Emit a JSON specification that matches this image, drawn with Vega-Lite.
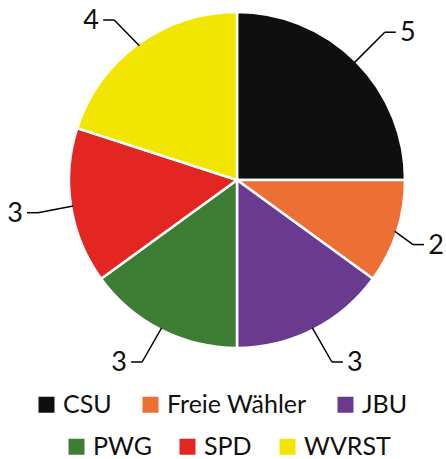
{
  "$schema": "https://vega.github.io/schema/vega-lite/v6.json",
  "width": 418,
  "height": 360,
  "autosize": {"type": "none"},
  "padding": {"left": 28, "top": 0, "right": 0, "bottom": 99},
  "background": "white",
  "config": {"view": {"stroke": null}, "font": "Lato"},
  "data": {
    "values": [
      {"party": "CSU", "seats": 5},
      {"party": "Freie Wähler", "seats": 2},
      {"party": "JBU", "seats": 3},
      {"party": "PWG", "seats": 3},
      {"party": "SPD", "seats": 3},
      {"party": "WVRST", "seats": 4}
    ]
  },
  "transform": [
    {"window": [{"op": "sum", "field": "seats", "as": "cum"}], "sort": [{"field": "party"}], "frame": [null, 0]},
    {"joinaggregate": [{"op": "sum", "field": "seats", "as": "total"}]},
    {"calculate": "(datum.cum - datum.seats / 2) / datum.total * 2 * PI", "as": "mid"},
    {"calculate": "166 * sin(datum.mid)", "as": "sx"},
    {"calculate": "166 * cos(datum.mid)", "as": "sy"},
    {"calculate": "clamp(209 * sin(datum.mid), -199, 176)", "as": "ex"},
    {"calculate": "clamp(209 * cos(datum.mid), -182, 160)", "as": "ey"},
    {"calculate": "datum.ex + (datum.sx > 0 ? 11 : -11)", "as": "hx"},
    {"calculate": "datum.ex + (datum.sx > 0 ? 23 : -23)", "as": "lx"}
  ],
  "layer": [
    {
      "mark": {"type": "arc", "outerRadius": 168, "stroke": "white", "strokeWidth": 2.5},
      "encoding": {
        "theta": {"field": "seats", "type": "quantitative", "stack": true},
        "color": {
          "field": "party",
          "type": "nominal",
          "scale": {
            "domain": ["CSU", "Freie Wähler", "JBU", "PWG", "SPD", "WVRST"],
            "range": ["#0f0f0f", "#ec6f34", "#693a8e", "#3e7e34", "#e42622", "#f2e500"]
          },
          "legend": {
            "values": ["CSU", "Freie Wähler", "JBU"],
            "orient": "none",
            "legendX": 6,
            "legendY": 392,
            "direction": "horizontal",
            "title": null,
            "symbolType": "square",
            "symbolSize": 256,
            "symbolStrokeWidth": 0,
            "symbolOpacity": 1,
            "labelFont": "Lato",
            "labelFontSize": 25,
            "labelColor": "#111111",
            "labelOffset": 4,
            "columnPadding": 26
          }
        }
      }
    },
    {
      "mark": {"type": "arc", "outerRadius": 168, "stroke": "white", "strokeWidth": 2.5},
      "encoding": {
        "theta": {"field": "seats", "type": "quantitative", "stack": true},
        "fill": {
          "field": "party",
          "type": "nominal",
          "scale": {
            "domain": ["PWG", "SPD", "WVRST", "CSU", "Freie Wähler", "JBU"],
            "range": ["#3e7e34", "#e42622", "#f2e500", "#0f0f0f", "#ec6f34", "#693a8e"]
          },
          "legend": {
            "values": ["PWG", "SPD", "WVRST"],
            "orient": "none",
            "legendX": 36,
            "legendY": 434,
            "direction": "horizontal",
            "title": null,
            "symbolType": "square",
            "symbolSize": 256,
            "symbolStrokeWidth": 0,
            "symbolOpacity": 1,
            "labelFont": "Lato",
            "labelFontSize": 25,
            "labelColor": "#111111",
            "labelOffset": 4,
            "columnPadding": 23
          }
        }
      }
    },
    {
      "mark": {"type": "rule", "color": "black", "strokeWidth": 1.5},
      "encoding": {
        "x": {"field": "sx", "type": "quantitative", "scale": {"domain": [-209, 209], "nice": false, "zero": false}, "axis": null},
        "y": {"field": "sy", "type": "quantitative", "scale": {"domain": [-180, 180], "nice": false, "zero": false}, "axis": null},
        "x2": {"field": "ex"},
        "y2": {"field": "ey"}
      }
    },
    {
      "mark": {"type": "rule", "color": "black", "strokeWidth": 1.5},
      "encoding": {
        "x": {"field": "ex", "type": "quantitative"},
        "y": {"field": "ey", "type": "quantitative"},
        "x2": {"field": "hx"}
      }
    },
    {
      "mark": {"type": "text", "fontSize": 27, "font": "Lato", "align": "center", "baseline": "middle", "dy": 1, "color": "#111111"},
      "encoding": {
        "x": {"field": "lx", "type": "quantitative"},
        "y": {"field": "ey", "type": "quantitative"},
        "text": {"field": "seats", "type": "quantitative"}
      }
    }
  ]
}
